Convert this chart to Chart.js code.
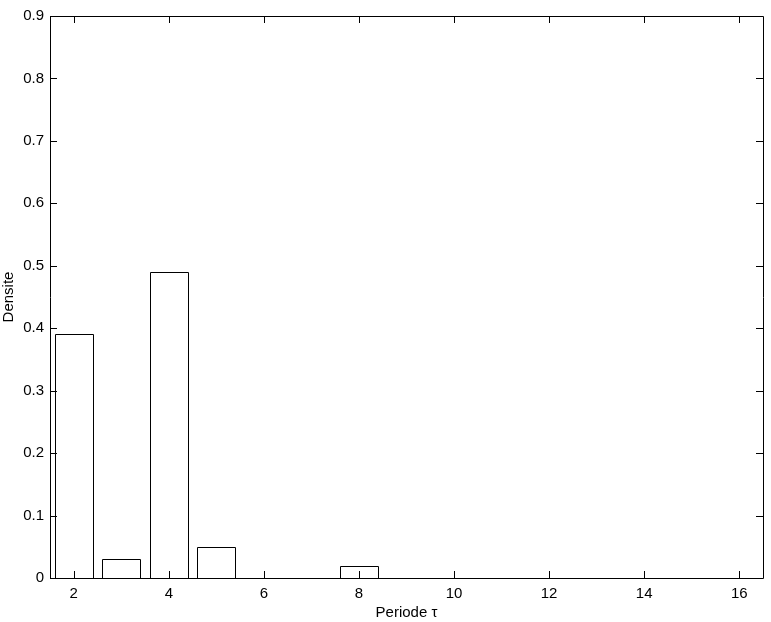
<!DOCTYPE html>
<html>
<head>
<meta charset="utf-8">
<script src="https://cdn.jsdelivr.net/npm/chart.js@4"></script>
<style>
  html, body { margin: 0; padding: 0; background: #fff; }
  #wrap { width: 771px; height: 622px; position: relative; }
</style>
</head>
<body>
<div id="wrap"><canvas id="c" width="771" height="622"></canvas></div>
<script>
const periods = [2, 3, 4, 5, 8];
const densities = [0.39, 0.03, 0.49, 0.05, 0.02];
const xTicks = [2, 4, 6, 8, 10, 12, 14, 16];
const yTicks = [0, 0.1, 0.2, 0.3, 0.4, 0.5, 0.6, 0.7, 0.8, 0.9];

const FONT = { family: '"Liberation Sans", Arial, sans-serif', size: 15 };

const crispBars = {
  id: 'crispBars',
  afterDatasetsDraw(chart) {
    const { ctx } = chart;
    ctx.save();
    ctx.strokeStyle = '#000';
    ctx.lineWidth = 1;
    chart.getDatasetMeta(0).data.forEach(el => {
      const p = el.getProps(['x', 'y', 'base', 'width'], true);
      const l = Math.round(p.x - p.width / 2) + 0.5;
      const r = Math.round(p.x + p.width / 2) + 0.5;
      const t = Math.round(p.y) + 0.5;
      const b = Math.round(p.base) + 0.5;
      ctx.fillStyle = '#fff';
      ctx.fillRect(l, t, r - l, b - t);
      ctx.beginPath();
      ctx.rect(l, t, r - l, b - t);
      ctx.stroke();
    });
    ctx.restore();
  }
};

const boxTicks = {
  id: 'boxTicks',
  afterDraw(chart) {
    const { ctx, chartArea: a, scales } = chart;
    const L = 7;
    ctx.save();
    ctx.strokeStyle = '#000';
    ctx.lineWidth = 1;
    ctx.beginPath();
    ctx.rect(Math.round(a.left) + 0.5, Math.round(a.top) + 0.5,
             Math.round(a.right - a.left), Math.round(a.bottom - a.top));
    xTicks.forEach(v => {
      const px = Math.round(scales.x.getPixelForValue(v)) + 0.5;
      ctx.moveTo(px, a.bottom); ctx.lineTo(px, a.bottom - L);
      ctx.moveTo(px, a.top); ctx.lineTo(px, a.top + L);
    });
    yTicks.forEach(v => {
      const py = Math.round(scales.y.getPixelForValue(v)) + 0.5;
      ctx.moveTo(a.left, py); ctx.lineTo(a.left + L, py);
      ctx.moveTo(a.right, py); ctx.lineTo(a.right - L, py);
    });
    ctx.stroke();
    ctx.restore();
  }
};

new Chart(document.getElementById('c'), {
  type: 'bar',
  data: {
    datasets: [{
      data: periods.map((p, i) => ({ x: p, y: densities[i] })),
      backgroundColor: '#ffffff',
      borderColor: '#000000',
      borderWidth: 0,
      barPercentage: 0.8,
      categoryPercentage: 1.0
    }]
  },
  options: {
    responsive: false,
    animation: false,
    devicePixelRatio: 1,
    layout: { padding: { top: 16, right: 8, left: 0, bottom: 0 } },
    plugins: { legend: { display: false }, tooltip: { enabled: false } },
    scales: {
      x: {
        type: 'linear',
        min: 1.5, max: 16.5,
        offset: false,
        grid: { display: false, drawTicks: false },
        border: { display: false },
        afterBuildTicks(scale) { scale.ticks = xTicks.map(v => ({ value: v })); },
        afterFit(scale) { scale.height = 44; },
        ticks: { color: '#000', font: FONT, padding: 7, maxRotation: 0 },
        title: { display: true, text: 'Periode τ', color: '#000', font: FONT, padding: { top: 0, bottom: 0 } }
      },
      y: {
        min: 0, max: 0.9,
        grid: { display: false, drawTicks: false },
        border: { display: false },
        afterBuildTicks(scale) { scale.ticks = yTicks.map(v => ({ value: v })); },
        afterFit(scale) { scale.width = 50; },
        ticks: { color: '#000', font: FONT, padding: 6,
          callback: v => (v === 0 ? '0' : v.toFixed(1)) },
        title: { display: true, text: 'Densite', color: '#000', font: FONT, padding: { top: 0, bottom: 0 } }
      }
    }
  },
  plugins: [crispBars, boxTicks]
});
</script>
</body>
</html>
